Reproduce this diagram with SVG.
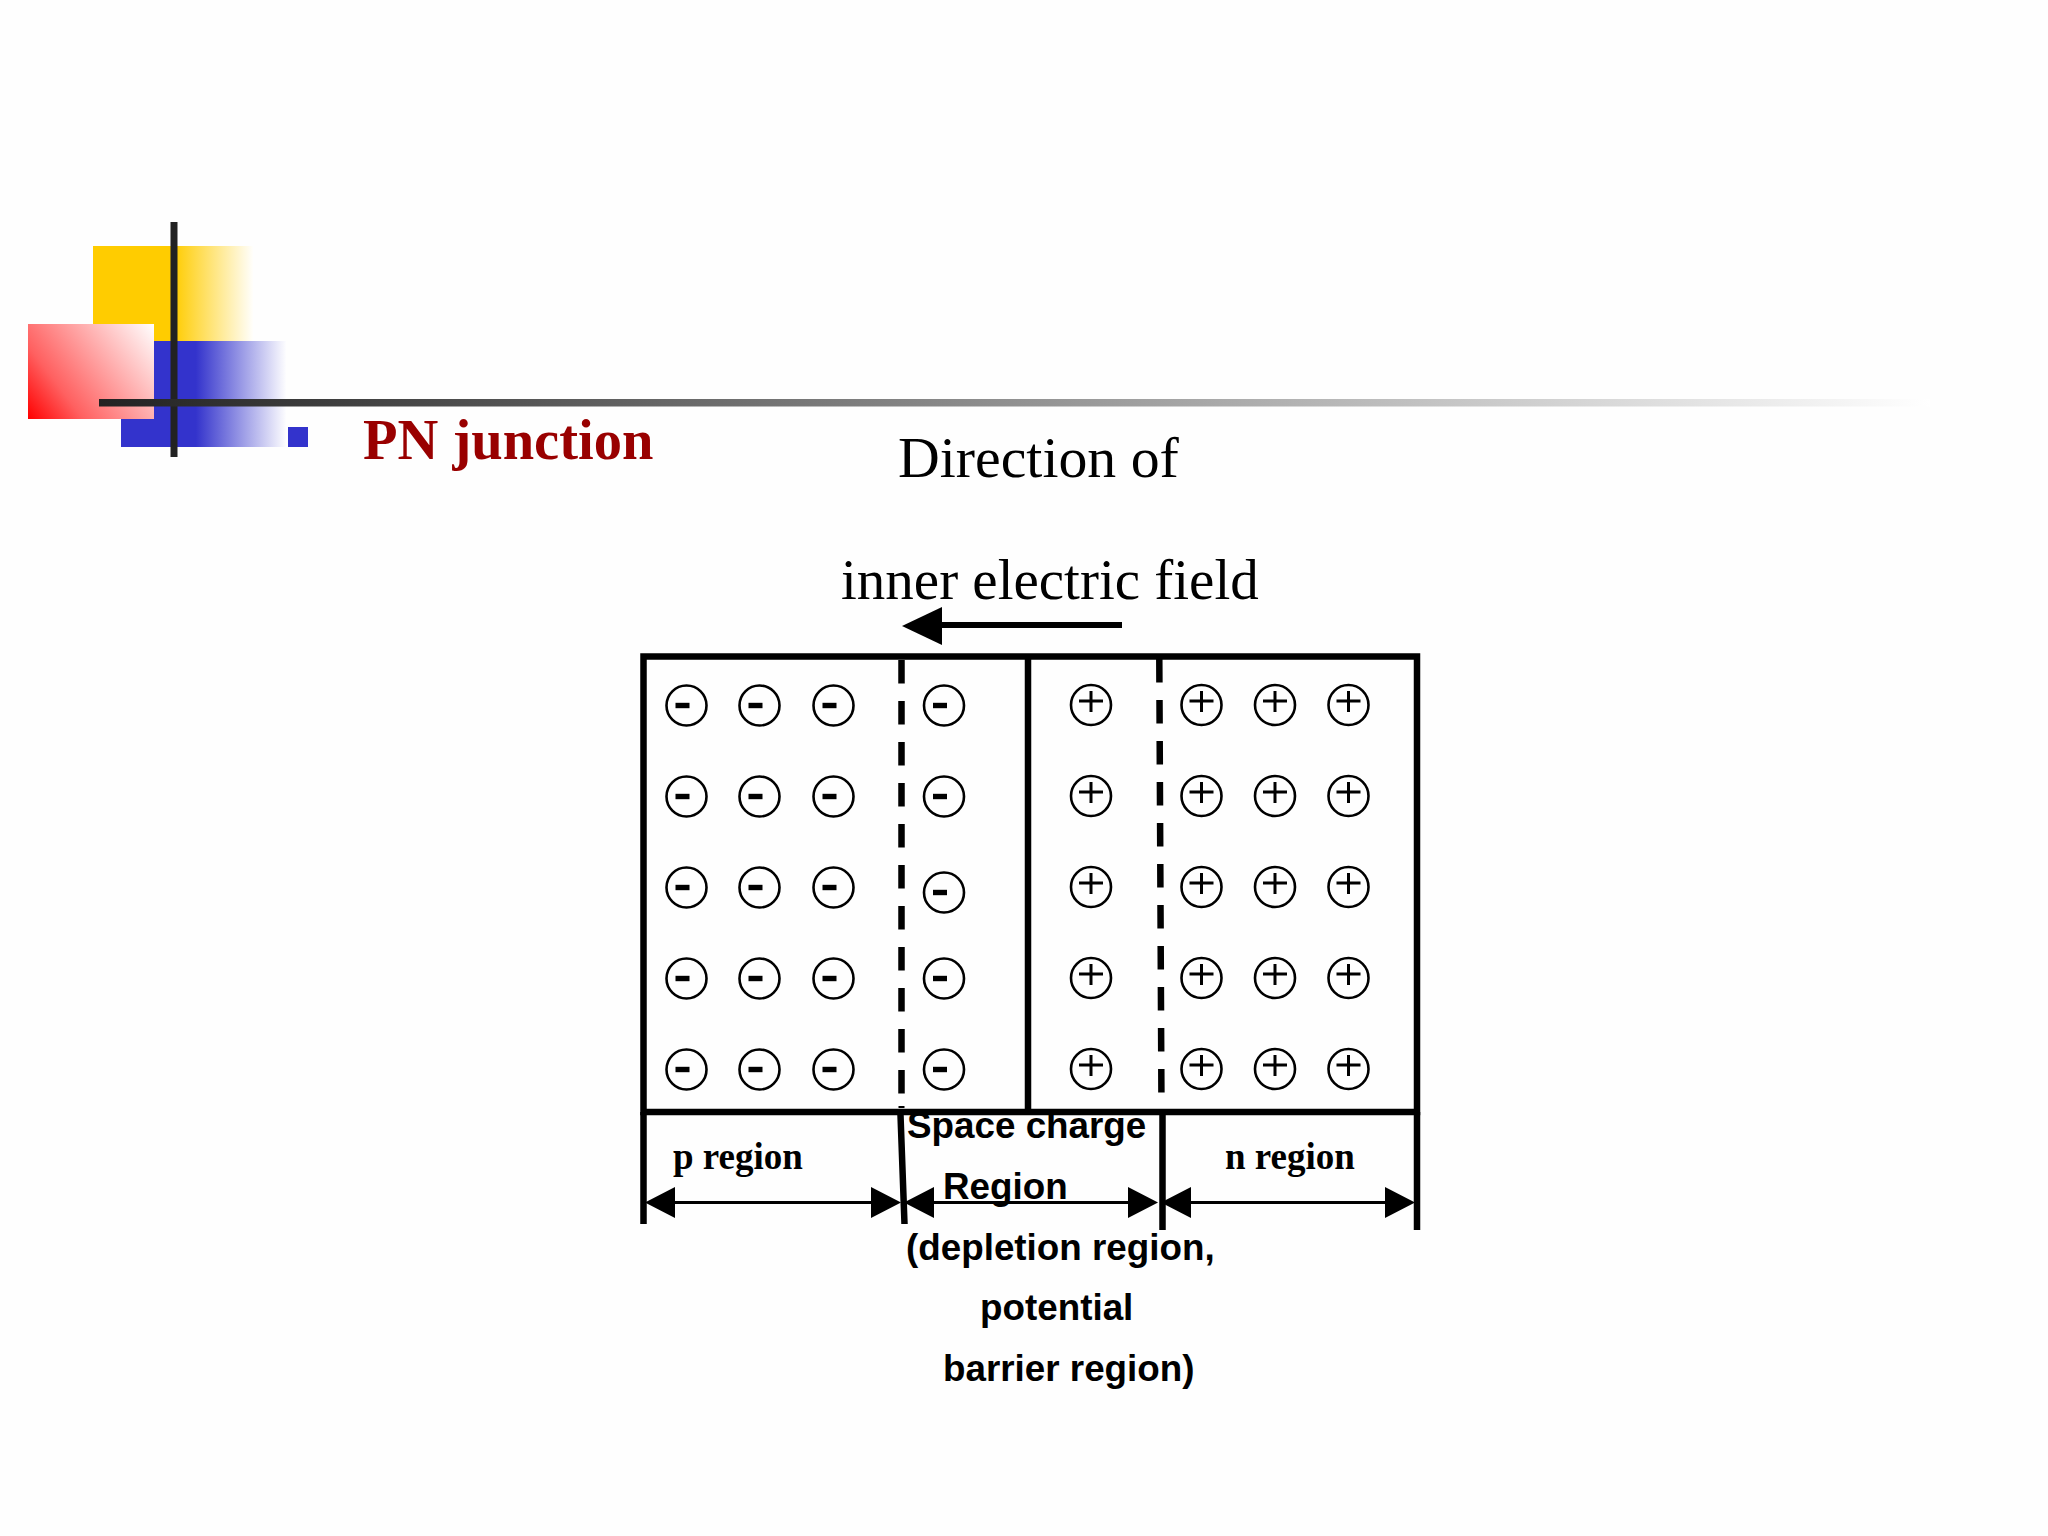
<svg xmlns="http://www.w3.org/2000/svg" width="2048" height="1536" viewBox="0 0 2048 1536">
<style>
.ser{font-family:"Liberation Serif","Times New Roman",serif}
.san{font-family:"Liberation Sans",Arial,sans-serif;font-weight:700;font-size:36.8px;fill:#000}
.reg{font-weight:700;font-size:37px;fill:#000}
.big{fill:#000}
.ln{stroke:#000;fill:none;stroke-width:6.5}
.dash{stroke:#000;fill:none;stroke-width:6.5;stroke-dasharray:23.5 17.5}
.dim{stroke:#000;fill:none;stroke-width:3}
.c{fill:none;stroke:#000;stroke-width:2.6}
.s{stroke:#000;fill:none}
</style>
<defs>
<linearGradient id="gy" gradientUnits="userSpaceOnUse" x1="93" y1="0" x2="254" y2="0"><stop offset="0.5" stop-color="#FFCC00"/><stop offset="1" stop-color="#FFFFFF"/></linearGradient>
<linearGradient id="gb" gradientUnits="userSpaceOnUse" x1="121" y1="0" x2="287" y2="0"><stop offset="0.45" stop-color="#3333CC"/><stop offset="1" stop-color="#FFFFFF"/></linearGradient>
<linearGradient id="gr" gradientUnits="userSpaceOnUse" x1="28" y1="419" x2="154" y2="324"><stop offset="0" stop-color="#FF0000"/><stop offset="0.28" stop-color="#FF6060"/><stop offset="1" stop-color="#FFFFFF"/></linearGradient>
<linearGradient id="gk" gradientUnits="userSpaceOnUse" x1="99" y1="0" x2="1930" y2="0"><stop offset="0" stop-color="#222222"/><stop offset="1" stop-color="#FFFFFF"/></linearGradient>
<g id="minus"><circle class="c" r="20"/><rect x="-11" y="-2.7" width="14" height="5.4" fill="#000"/></g>
<g id="plus"><circle class="c" r="20"/><path class="s" stroke-width="3" d="M-12-4H12M0-14V7"/></g>
<polygon id="al" points="0,0 30,-15.5 30,15.5" fill="#000"/>
<polygon id="ar" points="0,0 -30,-15.5 -30,15.5" fill="#000"/>
</defs>
<rect width="2048" height="1536" fill="#FEFEFE"/>
<g id="decoration">
<rect x="93" y="246" width="160" height="95" fill="url(#gy)"/>
<rect x="121" y="341" width="165" height="106" fill="url(#gb)"/>
<rect x="28" y="324" width="126" height="95" fill="url(#gr)"/>
<rect x="170.5" y="222" width="7" height="235" fill="#222"/>
<rect x="99" y="399" width="1831" height="7.5" fill="url(#gk)"/>
<rect x="288" y="427" width="20" height="20" fill="#3333CC"/>
</g>
<g id="title"><text class="ser" x="363" y="459" font-size="56.5" font-weight="700" fill="#990000">PN junction</text></g>
<g id="field-label">
<text class="ser big" x="898" y="477" font-size="57.8">Direction of</text>
<text class="ser big" x="841" y="599" font-size="57">inner electric field</text>
</g>
<g id="junction-box">
<rect class="ln" x="643.5" y="656.5" width="773.5" height="455.5"/>
<path class="ln" d="M1028 656.5V1112"/>
</g>
<g id="connectors">
<path d="M942 625H1122" stroke="#000" stroke-width="6" fill="none"/>
<polygon points="902,626 942,607 942,645" fill="#000"/>
<path class="dash" d="M901.5 660V1094"/>
<path d="M901.5 1106V1108" stroke="#000" stroke-width="6" fill="none"/>
<path class="dash" d="M1159.3 659L1161.5 1112"/>
<path class="ln" d="M643.5 1112V1224M900.5 1115L904.5 1224M1162.5 1112V1230M1417 1112V1230"/>
<path class="dim" d="M670 1202.5H875M928 1202.5H1132M1186 1202.5H1390"/>
<use href="#al" x="645" y="1202.5"/><use href="#ar" x="901" y="1202.5"/>
<use href="#al" x="904" y="1202.5"/><use href="#ar" x="1158" y="1202.5"/>
<use href="#al" x="1161" y="1202.5"/><use href="#ar" x="1415" y="1202.5"/>
</g>
<g id="p-charges">
<use href="#minus" x="686.5" y="705.5"/><use href="#minus" x="759.5" y="705.5"/><use href="#minus" x="833.5" y="705.5"/><use href="#minus" x="944" y="705.5"/>
<use href="#minus" x="686.5" y="796.5"/><use href="#minus" x="759.5" y="796.5"/><use href="#minus" x="833.5" y="796.5"/><use href="#minus" x="944" y="796.5"/>
<use href="#minus" x="686.5" y="887.5"/><use href="#minus" x="759.5" y="887.5"/><use href="#minus" x="833.5" y="887.5"/><use href="#minus" x="944" y="892.5"/>
<use href="#minus" x="686.5" y="978.5"/><use href="#minus" x="759.5" y="978.5"/><use href="#minus" x="833.5" y="978.5"/><use href="#minus" x="944" y="978.5"/>
<use href="#minus" x="686.5" y="1069.5"/><use href="#minus" x="759.5" y="1069.5"/><use href="#minus" x="833.5" y="1069.5"/><use href="#minus" x="944" y="1069.5"/>
</g>
<g id="n-charges">
<use href="#plus" x="1091" y="705"/><use href="#plus" x="1201.5" y="705"/><use href="#plus" x="1275" y="705"/><use href="#plus" x="1348.5" y="705"/>
<use href="#plus" x="1091" y="796"/><use href="#plus" x="1201.5" y="796"/><use href="#plus" x="1275" y="796"/><use href="#plus" x="1348.5" y="796"/>
<use href="#plus" x="1091" y="887"/><use href="#plus" x="1201.5" y="887"/><use href="#plus" x="1275" y="887"/><use href="#plus" x="1348.5" y="887"/>
<use href="#plus" x="1091" y="978"/><use href="#plus" x="1201.5" y="978"/><use href="#plus" x="1275" y="978"/><use href="#plus" x="1348.5" y="978"/>
<use href="#plus" x="1091" y="1069"/><use href="#plus" x="1201.5" y="1069"/><use href="#plus" x="1275" y="1069"/><use href="#plus" x="1348.5" y="1069"/>
</g>
<g id="labels">
<text class="ser reg" x="673" y="1169">p region</text>
<text class="ser reg" x="1225" y="1169">n region</text>
<text class="san" x="907" y="1138">Space charge</text>
<text class="san" x="943" y="1199">Region</text>
<text class="san" x="906" y="1260">(depletion region,</text>
<text class="san" x="980" y="1320">potential</text>
<text class="san" x="943" y="1381">barrier region)</text>
</g>
</svg>
